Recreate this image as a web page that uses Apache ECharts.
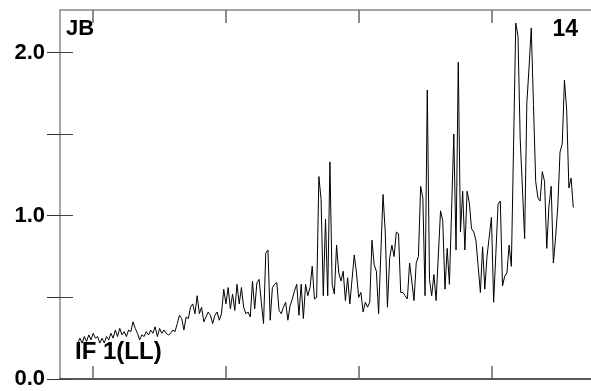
<!DOCTYPE html>
<html>
<head>
<meta charset="utf-8">
<script src="https://cdn.jsdelivr.net/npm/echarts@6/dist/echarts.min.js"></script>
<style>
html,body{margin:0;padding:0;background:#fff;}
#chart{width:591px;height:391px;}
</style>
</head>
<body>
<div id="chart"></div>
<script>
// x is a month index; series starts at month 8
const startMonth = 8;
const values = [
  0.22,0.25,0.22,0.26,0.23,0.27,0.24,0.28,0.25,0.26,
  0.22,0.25,0.22,0.26,0.24,0.28,0.25,0.30,0.26,0.31,
  0.27,0.29,0.26,0.30,0.29,0.35,0.31,0.28,0.24,0.27,
  0.26,0.29,0.27,0.30,0.28,0.32,0.26,0.31,0.28,0.30,
  0.28,0.27,0.28,0.30,0.29,0.34,0.39,0.37,0.30,0.38,
  0.37,0.44,0.46,0.40,0.51,0.40,0.44,0.35,0.38,0.41,
  0.39,0.34,0.39,0.41,0.36,0.40,0.55,0.46,0.56,0.43,
  0.52,0.42,0.58,0.46,0.56,0.44,0.40,0.41,
  0.38,0.60,0.43,0.59,0.61,0.47,0.34,0.77,0.79,0.36,
  0.56,0.58,0.59,0.42,0.40,0.44,0.47,0.36,0.45,0.49,
  0.54,0.58,0.39,0.58,0.37,0.58,0.51,0.56,0.69,0.49,
  0.50,1.24,1.10,0.51,0.98,0.51,1.33,0.58,0.52,0.82,
  0.65,0.60,0.66,0.48,0.62,0.46,0.61,0.76,0.65,0.50,
  0.53,0.41,0.47,0.44,0.47,0.85,0.70,0.66,0.40,0.77,
  1.13,0.90,0.44,0.74,0.82,0.75,0.90,0.89,0.53,0.53,
  0.51,0.49,0.71,0.60,0.48,0.71,0.75,1.18,1.11,0.51,
  1.77,0.61,0.51,0.64,0.48,0.76,1.03,0.97,0.55,0.80,
  0.58,1.04,1.50,0.79,1.94,0.90,1.15,0.79,1.15,1.08,
  0.92,0.90,0.85,0.69,0.53,0.81,0.55,0.75,0.87,0.99,
  0.47,0.77,1.07,1.09,0.57,0.63,0.65,0.82,0.69,1.43,
  2.18,2.10,1.47,1.17,0.86,1.69,1.91,2.15,1.68,1.21,
  1.11,1.09,1.27,1.21,0.80,1.06,1.18,0.71,0.87,1.06,
  1.39,1.44,1.83,1.65,1.17,1.23,1.05
];
const xRange = [0, 240];
const xTicks = [15, 75, 135, 195];
const yRange = [0, 2.26];
const yTicks = [0, 0.5, 1, 1.5, 2];
const yLabels = [0, 1, 2];
const topLeftLabel = 'JB';
const topRightLabel = '14';
const bottomLeftLabel = 'IF 1(LL)';

const seriesData = values.map((v, i) => [startMonth + i, v]);
const FONT = 'Liberation Sans, Arial, Helvetica, sans-serif';

const chart = echarts.init(document.getElementById('chart'), null, {renderer: 'canvas'});

function xAxisCfg(pos, lineColor) {
  return {
    type: 'value', position: pos, min: xRange[0], max: xRange[1],
    axisLine: {show: true, onZero: false, lineStyle: {color: lineColor, width: 1.5}},
    axisTick: {show: true, inside: true, length: 13, customValues: xTicks, lineStyle: {color: '#666', width: 1.5}},
    axisLabel: {show: false},
    splitLine: {show: false}
  };
}

chart.setOption({
  animation: false,
  backgroundColor: '#fff',
  grid: {left: 60, top: 10, width: 531, height: 369, containLabel: false},
  xAxis: [xAxisCfg('bottom', '#222'), xAxisCfg('top', '#888')],
  yAxis: [
    {
      type: 'value', position: 'left', min: yRange[0], max: yRange[1],
      axisLine: {show: true, onZero: false, lineStyle: {color: '#888', width: 1.5}},
      axisTick: {show: true, inside: true, length: 13, customValues: yTicks, lineStyle: {color: '#444', width: 1}},
      axisLabel: {show: true, customValues: yLabels, margin: 15, formatter: v => Number(v).toFixed(1),
        fontSize: 22, fontWeight: 'bold', color: '#000', fontFamily: FONT},
      splitLine: {show: false}
    },
    {
      type: 'value', position: 'right', min: yRange[0], max: yRange[1],
      axisLine: {show: false},
      axisTick: {show: true, inside: true, length: 13, customValues: yTicks, lineStyle: {color: '#333', width: 1}},
      axisLabel: {show: false},
      splitLine: {show: false}
    }
  ],
  series: [{
    type: 'line', xAxisIndex: 0, yAxisIndex: 0, data: seriesData,
    showSymbol: false, symbol: 'none',
    lineStyle: {color: '#000', width: 1}
  }],
  graphic: [
    {type: 'text', left: 66, top: 18, style: {text: topLeftLabel, font: 'bold 22px ' + FONT, fill: '#000'}},
    {type: 'text', right: 13, top: 18, style: {text: topRightLabel, font: 'bold 23px ' + FONT, fill: '#000'}},
    {type: 'text', left: 75, top: 340, style: {text: bottomLeftLabel, font: 'bold 24px ' + FONT, fill: '#000'}}
  ]
});
</script>
</body>
</html>
